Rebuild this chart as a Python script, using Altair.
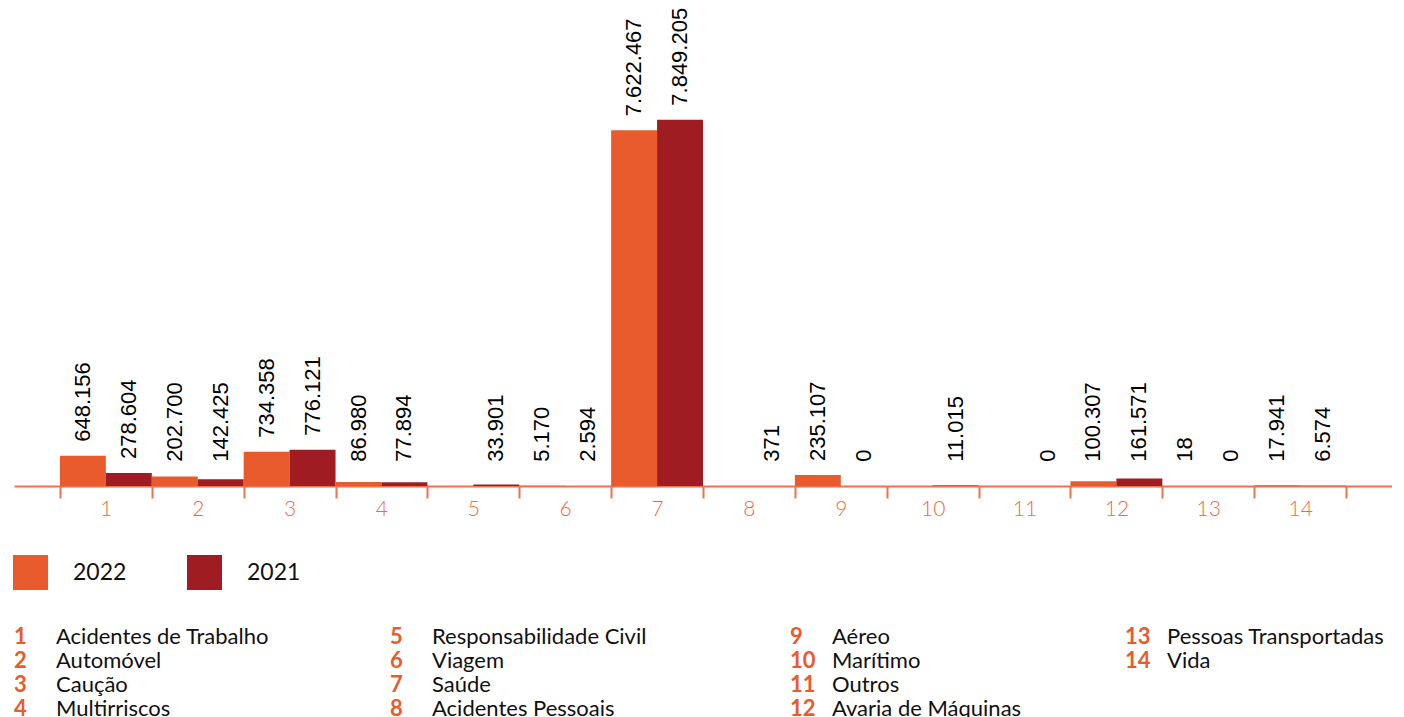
import altair as alt
import pandas as pd

# ---- data ----
categories = list(range(1, 15))
names = [
    "Acidentes de Trabalho", "Automóvel", "Caução", "Multirriscos",
    "Responsabilidade Civil", "Viagem", "Saúde", "Acidentes Pessoais",
    "Aéreo", "Marítimo", "Outros", "Avaria de Máquinas",
    "Pessoas Transportadas", "Vida",
]
years = ["2022", "2021"]
values_2022 = [648156, 202700, 734358, 86980, None, 5170, 7622467, None,
               235107, None, None, 100307, 18, 17941]
values_2021 = [278604, 142425, 776121, 77894, 33901, 2594, 7849205, 371,
               0, 11015, 0, 161571, 0, 6574]

ORANGE = "#E95B2C"
DARKRED = "#9E1C22"
AXIS_ORANGE = "#F0714A"

rows = []
for c, v22, v21 in zip(categories, values_2022, values_2021):
    rows.append({"cat": c, "year": "2022", "value": v22})
    rows.append({"cat": c, "year": "2021", "value": v21})
df = pd.DataFrame(rows)

key_df = pd.DataFrame({
    "cat": categories,
    "name": names,
    "col": [(c - 1) // 4 for c in categories],
    "row": [(c - 1) % 4 for c in categories],
})

# ---- main bar chart ----
base = (
    alt.Chart(df)
    .transform_filter("isValid(datum.value)")
    .transform_calculate(
        x0="datum.cat - 0.5 + (datum.year === '2021' ? 0.5 : 0)",
    )
    .transform_calculate(x1="datum.x0 + 0.5", xm="datum.x0 + 0.25",
                         ly="max(datum.value, 220000)")
)

tick_vals = [k / 2 for k in range(1, 30)]  # 0.5 .. 14.5

x_axis = alt.Axis(
    values=tick_vals,
    labelExpr="datum.value % 1 === 0 ? format(datum.value, 'd') : ''",
    title=None,
    grid=False,
    domainColor=AXIS_ORANGE,
    domainWidth=2,
    tickColor=AXIS_ORANGE,
    tickWidth=2,
    tickSize=12,
    tickOpacity={"condition": {"test": "datum.value % 1 === 0", "value": 0}, "value": 1},
    labelColor="#EE6A40",
    labelFont="Lato",
    labelFontWeight=300,
    labelFontSize=21,
    labelPadding=0,
    labelOverlap=False,
    labelFlush=False,
    labelBound=False,
)

bars = base.mark_bar().encode(
    x=alt.X("x0:Q", scale=alt.Scale(domain=[0, 15], nice=False, zero=False), axis=x_axis),
    x2="x1:Q",
    y=alt.Y("value:Q", scale=alt.Scale(domain=[0, 10200000], nice=False), axis=None),
    y2=alt.datum(0),
    color=alt.Color(
        "year:N",
        scale=alt.Scale(domain=years, range=[ORANGE, DARKRED]),
        legend=alt.Legend(
            orient="none",
            legendX=-1,
            legendY=545,
            direction="horizontal",
            title=None,
            symbolType="square",
            symbolSize=1225,
            symbolStrokeWidth=0,
            symbolOpacity=1,
            labelFont="Lato",
            labelFontSize=23,
            labelColor="#111111",
            labelOffset=25,
            columnPadding=60,
            padding=0,
        ),
    ),
)

labels = base.mark_text(
    angle=270, align="left", baseline="middle", dx=14,
    font="Liberation Sans", fontSize=22, color="#000000",
).encode(
    x="xm:Q",
    y="ly:Q",
    text=alt.Text("value:Q", format=",d"),
)

main = (bars + labels).properties(width=1378, height=476)

# ---- key list ----
kbase = alt.Chart(key_df).encode(
    x=alt.X("col:Q", scale=alt.Scale(domain=[0, 1, 2, 3], range=[0, 376, 776, 1111]), axis=None),
    y=alt.Y("row:Q", scale=alt.Scale(domain=[-0.5, 3.5], reverse=True, nice=False, zero=False), axis=None),
)
knum = kbase.mark_text(
    align="left", baseline="middle", font="Lato", fontWeight="bold",
    fontSize=22, color=ORANGE,
).encode(text="cat:N")
kname = kbase.mark_text(
    align="left", baseline="middle", dx=42, font="Lato",
    fontSize=22, color="#111111",
).encode(text="name:N")
key = (knum + kname).properties(width=1378, height=96)

chart = (
    alt.vconcat(main, key, spacing=106)
    .properties(padding={"left": 13, "top": 7, "right": 0, "bottom": 0})
    .configure_view(stroke=None)
)

chart.save(
    "out.html",
    embed_options={
        "renderer": "svg",
        "actions": False,
        "formatLocale": {
            "decimal": ",",
            "thousands": ".",
            "grouping": [3],
            "currency": ["", " €"],
        },
    },
)
